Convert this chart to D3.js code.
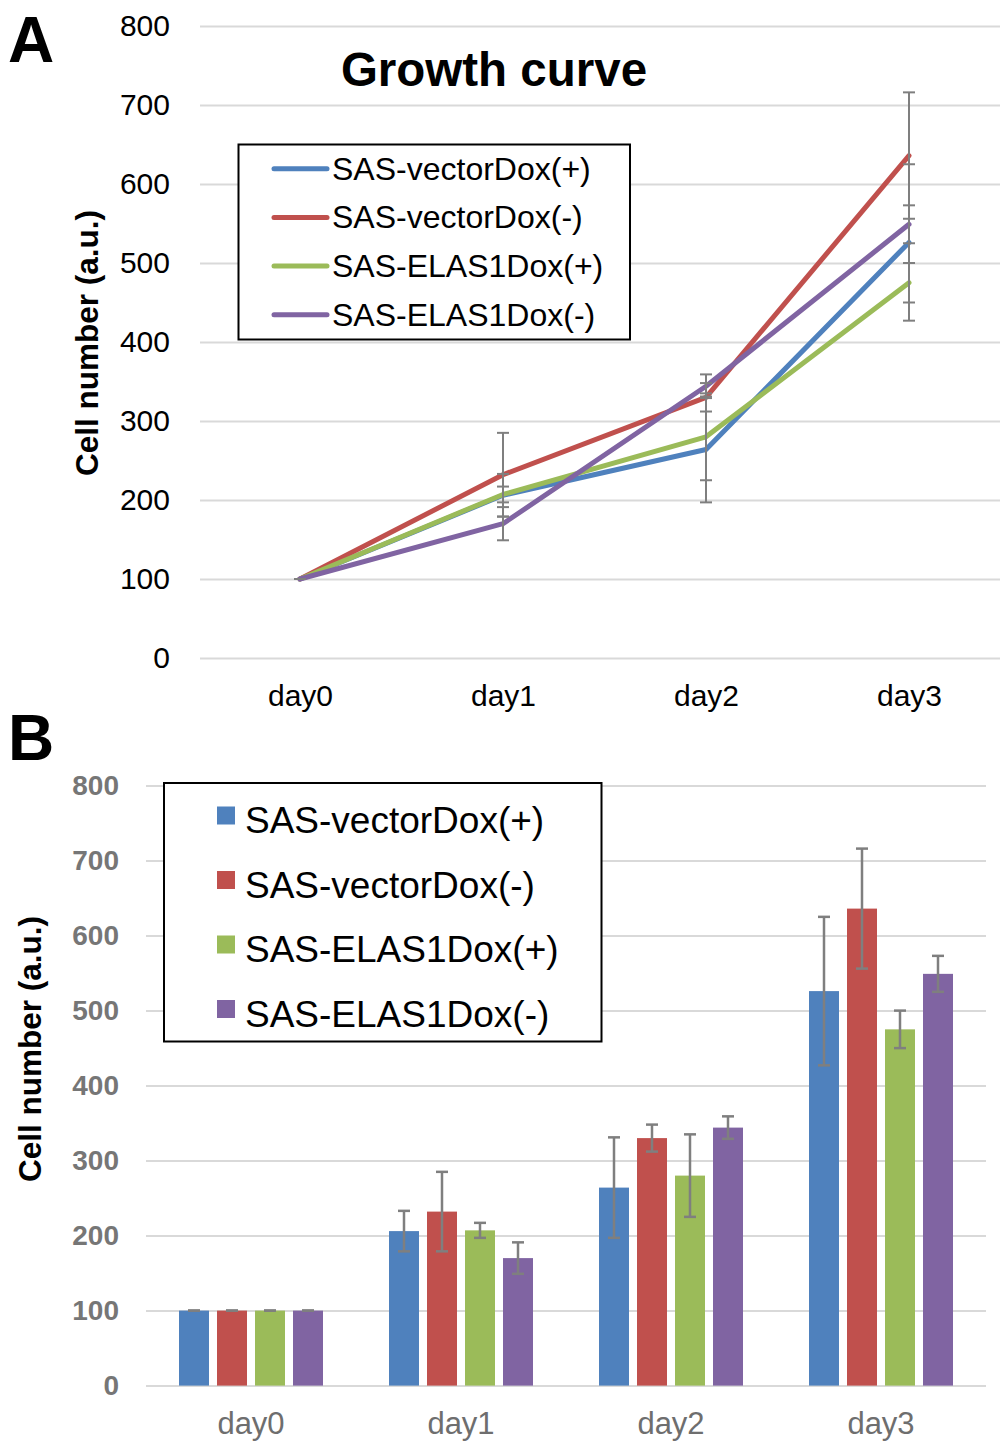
<!DOCTYPE html>
<html>
<head>
<meta charset="utf-8">
<script src="https://cdn.jsdelivr.net/npm/d3@7"></script>
<style>
  body { margin: 0; background: #fff; }
  svg { display: block; font-family: "Liberation Sans", Arial, sans-serif; }
</style>
</head>
<body>
<script>
// data (means and +/- error)
const days = ["day0", "day1", "day2", "day3"];
const seriesNames = ["SAS-vectorDox(+)", "SAS-vectorDox(-)", "SAS-ELAS1Dox(+)", "SAS-ELAS1Dox(-)"];
const seriesColors = ["#4f81bd", "#c0504d", "#9bbb59", "#8064a2"];

const vecPlus = [100, 206, 264, 526];
const vecPlusErr = [0, 27, 67, 99];
const vecMinus = [100, 232, 330, 636];
const vecMinusErr = [0, 53, 18, 80];
const elasPlus = [100, 207, 280, 475];
const elasPlusErr = [0, 10, 55, 25];
const elasMinus = [100, 170, 344, 549];
const elasMinusErr = [0, 21, 15, 24];

const yTicks = [0, 100, 200, 300, 400, 500, 600, 700, 800];

const values = [vecPlus, vecMinus, elasPlus, elasMinus];
const errors = [vecPlusErr, vecMinusErr, elasPlusErr, elasMinusErr];
const series = seriesNames.map((name, i) => ({
  name: name,
  color: seriesColors[i],
  points: days.map((d, j) => ({ day: d, v: values[i][j], e: errors[i][j] }))
}));

const GRID = "#d9d9d9";
const ERR = "#7f7f7f";
const CAP = 6;

const svg = d3.select("body").append("svg")
  .attr("width", 1000)
  .attr("height", 1443);

// ---------- panel A : growth curve ----------
const xA = d3.scalePoint().domain(days).range([198.5, 1010.5]).padding(0.5);
const yA = d3.scaleLinear().domain([0, 800]).range([658, 26]);

const gA = svg.append("g");

const yAxisA = d3.axisLeft(yA).tickValues(yTicks).tickSize(-800).tickPadding(30);
gA.append("g")
  .attr("transform", "translate(200,0)")
  .call(yAxisA)
  .call(g => g.select(".domain").remove())
  .call(g => g.selectAll(".tick line").attr("stroke", GRID).attr("stroke-width", 2))
  .call(g => g.selectAll(".tick text")
    .attr("fill", "#000").style("font-size", "30px").attr("font-family", null));

gA.append("g")
  .attr("transform", "translate(0,658)")
  .call(d3.axisBottom(xA).tickSize(0).tickPadding(27))
  .call(g => g.select(".domain").remove())
  .call(g => g.selectAll(".tick text")
    .attr("fill", "#000").style("font-size", "30px").attr("font-family", null));

const line = d3.line().x(d => xA(d.day)).y(d => yA(d.v));

gA.selectAll(".series")
  .data(series)
  .join("path")
  .attr("class", "series")
  .attr("d", d => line(d.points))
  .attr("fill", "none")
  .attr("stroke", d => d.color)
  .attr("stroke-width", 5)
  .attr("stroke-linejoin", "round")
  .attr("stroke-linecap", "round");

const errA = gA.selectAll(".errA")
  .data(series.flatMap(s => s.points))
  .join("g")
  .attr("class", "errA")
  .attr("stroke", ERR)
  .attr("stroke-width", 2);
errA.append("line")
  .attr("x1", d => xA(d.day)).attr("x2", d => xA(d.day))
  .attr("y1", d => yA(d.v - d.e)).attr("y2", d => yA(d.v + d.e));
errA.append("line")
  .attr("x1", d => xA(d.day) - CAP).attr("x2", d => xA(d.day) + CAP)
  .attr("y1", d => yA(d.v + d.e)).attr("y2", d => yA(d.v + d.e));
errA.append("line")
  .attr("x1", d => xA(d.day) - CAP).attr("x2", d => xA(d.day) + CAP)
  .attr("y1", d => yA(d.v - d.e)).attr("y2", d => yA(d.v - d.e));

// legend A
const legA = gA.append("g");
legA.append("rect")
  .attr("x", 238.5).attr("y", 144.5)
  .attr("width", 391.5).attr("height", 195)
  .attr("fill", "#fff").attr("stroke", "#000").attr("stroke-width", 2);
const legAItem = legA.selectAll(".item")
  .data(series)
  .join("g")
  .attr("class", "item")
  .attr("transform", (d, i) => `translate(0,${168.7 + i * 48.7})`);
legAItem.append("line")
  .attr("x1", 274).attr("x2", 327)
  .attr("stroke", d => d.color).attr("stroke-width", 5).attr("stroke-linecap", "round");
legAItem.append("text")
  .attr("x", 332).attr("y", 11)
  .style("font-size", "32px")
  .text(d => d.name);

gA.append("text")
  .attr("x", 494).attr("y", 86)
  .attr("text-anchor", "middle")
  .style("font-size", "47.5px").style("font-weight", "bold")
  .text("Growth curve");

gA.append("text")
  .attr("transform", "translate(98,343) rotate(-90)")
  .attr("text-anchor", "middle")
  .style("font-size", "31.5px").style("font-weight", "bold")
  .text("Cell number (a.u.)");

svg.append("text")
  .attr("x", 8).attr("y", 62)
  .style("font-size", "64px").style("font-weight", "bold")
  .text("A");

// ---------- panel B : bars ----------
const xB = d3.scaleBand().domain(days).range([146, 986]);
const xInner = d3.scaleBand().domain(seriesNames).range([-76, 76])
  .paddingInner(8 / 38).paddingOuter(4 / 38);
const yB = d3.scaleLinear().domain([0, 800]).range([1385.6, 785.6]);

const gB = svg.append("g");

gB.append("g")
  .attr("transform", "translate(146,0)")
  .call(d3.axisLeft(yB).tickValues(yTicks).tickSize(-840).tickPadding(27))
  .call(g => g.select(".domain").remove())
  .call(g => g.selectAll(".tick line").attr("stroke", GRID).attr("stroke-width", 2))
  .call(g => g.selectAll(".tick text")
    .attr("fill", "#767676").style("font-size", "28px").style("font-weight", "bold")
    .attr("font-family", null));

gB.append("g")
  .attr("transform", "translate(0,1385.6)")
  .call(d3.axisBottom(xB).tickSize(0).tickPadding(26))
  .call(g => g.select(".domain").remove())
  .call(g => g.selectAll(".tick text")
    .attr("fill", "#6e6e6e").style("font-size", "31px").attr("font-family", null));

const barData = series.flatMap(s => s.points.map(p => ({ name: s.name, color: s.color, day: p.day, v: p.v, e: p.e })));
const bx = d => xB(d.day) + xB.bandwidth() / 2 + xInner(d.name);

gB.selectAll(".bar")
  .data(barData)
  .join("rect")
  .attr("class", "bar")
  .attr("x", bx)
  .attr("y", d => yB(d.v))
  .attr("width", xInner.bandwidth())
  .attr("height", d => yB(0) - yB(d.v))
  .attr("fill", d => d.color);

const errB = gB.selectAll(".errB")
  .data(barData)
  .join("g")
  .attr("class", "errB")
  .attr("stroke", ERR)
  .attr("stroke-width", 2.5);
const cx = d => bx(d) + xInner.bandwidth() / 2;
errB.append("line")
  .attr("x1", cx).attr("x2", cx)
  .attr("y1", d => yB(d.v - d.e)).attr("y2", d => yB(d.v + d.e));
errB.append("line")
  .attr("x1", d => cx(d) - CAP).attr("x2", d => cx(d) + CAP)
  .attr("y1", d => yB(d.v + d.e)).attr("y2", d => yB(d.v + d.e));
errB.append("line")
  .attr("x1", d => cx(d) - CAP).attr("x2", d => cx(d) + CAP)
  .attr("y1", d => yB(d.v - d.e)).attr("y2", d => yB(d.v - d.e));

// legend B
const legB = gB.append("g");
legB.append("rect")
  .attr("x", 164).attr("y", 783)
  .attr("width", 437.5).attr("height", 258.5)
  .attr("fill", "#fff").attr("stroke", "#000").attr("stroke-width", 2);
const legBItem = legB.selectAll(".item")
  .data(series)
  .join("g")
  .attr("class", "item")
  .attr("transform", (d, i) => `translate(0,${815.5 + i * 64.5})`);
legBItem.append("rect")
  .attr("x", 217).attr("y", -9)
  .attr("width", 18).attr("height", 18)
  .attr("fill", d => d.color);
legBItem.append("text")
  .attr("x", 245).attr("y", 17.5)
  .style("font-size", "37px")
  .text(d => d.name);

gB.append("text")
  .attr("transform", "translate(41,1049) rotate(-90)")
  .attr("text-anchor", "middle")
  .style("font-size", "31.5px").style("font-weight", "bold")
  .text("Cell number (a.u.)");

svg.append("text")
  .attr("x", 8).attr("y", 760)
  .style("font-size", "64px").style("font-weight", "bold")
  .text("B");
</script>
</body>
</html>
